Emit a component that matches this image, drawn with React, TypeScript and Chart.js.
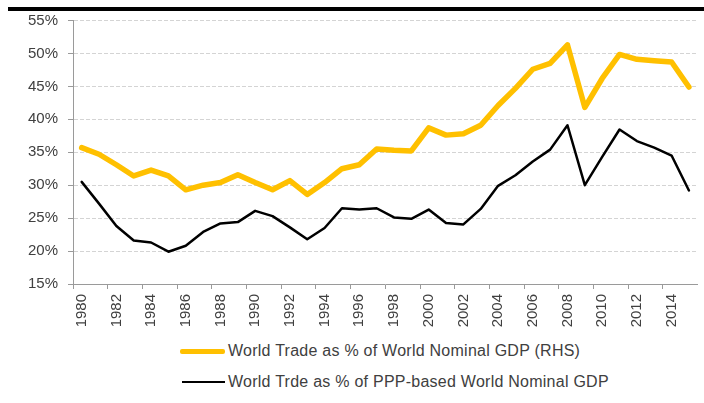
import React, { useEffect, useRef } from "react";
import { Chart, registerables } from "chart.js";

Chart.register(...registerables);

const years = [
  "1980", "1981", "1982", "1983", "1984", "1985", "1986", "1987", "1988", "1989",
  "1990", "1991", "1992", "1993", "1994", "1995", "1996", "1997", "1998", "1999",
  "2000", "2001", "2002", "2003", "2004", "2005", "2006", "2007", "2008", "2009",
  "2010", "2011", "2012", "2013", "2014", "2015",
];

const tradeNominalGdp = [
  35.7, 34.7, 33.1, 31.4, 32.3, 31.4, 29.3, 30.0, 30.4, 31.6,
  30.4, 29.3, 30.7, 28.6, 30.4, 32.5, 33.1, 35.5, 35.3, 35.2,
  38.7, 37.6, 37.8, 39.1, 42.1, 44.7, 47.6, 48.5, 51.3, 41.8,
  46.2, 49.85, 49.1, 48.9, 48.7, 44.9,
];

const tradePppGdp = [
  30.5, 27.2, 23.8, 21.6, 21.3, 19.9, 20.8, 22.9, 24.2, 24.4,
  26.1, 25.3, 23.6, 21.8, 23.5, 26.5, 26.3, 26.5, 25.1, 24.9,
  26.3, 24.25, 24.05, 26.4, 29.9, 31.5, 33.6, 35.4, 39.1, 30.0,
  34.3, 38.45, 36.7, 35.7, 34.5, 29.2,
];

const seriesLabels = [
  "World Trade as % of World Nominal GDP (RHS)",
  "World Trde as % of PPP-based World Nominal GDP",
];
const seriesColors = ["#FFC000", "#000000"];

const yMin = 15;
const yMax = 55;
const yStep = 5;

const FONT = "'Liberation Sans', Arial, sans-serif";
const TEXT = "#404040";
const AXIS = "#9a9a9a";

export default function App() {
  const ref = useRef<HTMLCanvasElement | null>(null);

  useEffect(() => {
    if (!ref.current) return;
    const chart = new Chart(ref.current, {
      type: "line",
      data: {
        labels: years,
        datasets: [
          {
            label: seriesLabels[0],
            data: tradeNominalGdp,
            borderColor: seriesColors[0],
            backgroundColor: seriesColors[0],
            borderWidth: 5.5,
            pointRadius: 0,
            tension: 0,
            borderJoinStyle: "round",
            borderCapStyle: "round",
          },
          {
            label: seriesLabels[1],
            data: tradePppGdp,
            borderColor: seriesColors[1],
            backgroundColor: seriesColors[1],
            borderWidth: 2.5,
            pointRadius: 0,
            tension: 0,
            borderJoinStyle: "round",
            borderCapStyle: "round",
          },
        ],
      },
      options: {
        responsive: false,
        animation: false,
        layout: { padding: { left: 0, right: 5, top: 20.5, bottom: 0 } },
        plugins: {
          legend: { display: false },
          tooltip: { enabled: false },
        },
        scales: {
          x: {
            type: "category",
            offset: true,
            grid: {
              display: true,
              offset: true,
              drawOnChartArea: false,
              drawTicks: true,
              tickLength: 5,
              tickColor: (ctx: any) => (ctx.index % 2 === 0 ? AXIS : "rgba(0,0,0,0)"),
            },
            border: { display: true, color: AXIS, width: 1 },
            ticks: {
              autoSkip: false,
              maxRotation: 90,
              minRotation: 90,
              padding: 5,
              color: TEXT,
              font: { family: FONT, size: 15 },
              callback: (_v: any, i: number) => (i % 2 === 0 ? years[i] : ""),
            },
            afterFit: (s: any) => {
              s.height = 56;
            },
          },
          y: {
            min: yMin,
            max: yMax,
            grid: {
              color: "#d4d4d4",
              lineWidth: 1,
              drawTicks: true,
              tickLength: 5,
              tickColor: AXIS,
              tickBorderDash: [],
            },
            border: { display: true, color: AXIS, width: 1, dash: [4, 2] },
            ticks: {
              stepSize: yStep,
              padding: 10,
              color: TEXT,
              font: { family: FONT, size: 15 },
              callback: (v: any) => v + "%",
            },
            afterFit: (s: any) => {
              s.width = 73;
            },
          },
        },
      },
    });
    return () => chart.destroy();
  }, []);

  const legendText: React.CSSProperties = {
    fontFamily: FONT,
    fontSize: 16,
    letterSpacing: "0.25px",
    color: TEXT,
    whiteSpace: "nowrap",
    marginLeft: 3,
  };

  return (
    <div
      style={{
        position: "fixed",
        left: 0,
        top: 0,
        width: 704,
        height: 403,
        overflow: "hidden",
        background: "#fff",
      }}
    >
      <canvas
        ref={ref}
        width={712}
        height={340}
        style={{ position: "absolute", left: 0, top: 0, width: 712, height: 340 }}
      />
      <div
        style={{ position: "absolute", left: 8, top: 7, width: 700, height: 4, background: "#000" }}
      />
      <div style={{ position: "absolute", left: 180, top: 341, height: 20, display: "flex", alignItems: "center" }}>
        <div style={{ width: 45, height: 5, background: seriesColors[0], borderRadius: 2 }} />
        <span style={legendText}>{seriesLabels[0]}</span>
      </div>
      <div style={{ position: "absolute", left: 182, top: 372, height: 20, display: "flex", alignItems: "center" }}>
        <div style={{ width: 43, height: 2, background: seriesColors[1] }} />
        <span style={legendText}>{seriesLabels[1]}</span>
      </div>
    </div>
  );
}
